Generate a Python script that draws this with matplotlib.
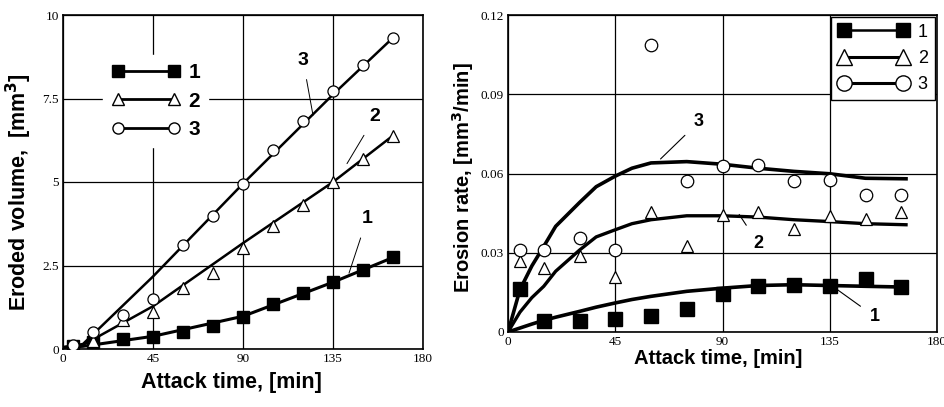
import matplotlib.pyplot as plt
from matplotlib.lines import Line2D

# --- left panel: eroded volume [mm3] vs attack time [min]
t_vol = [5, 15, 30, 45, 60, 75, 90, 105, 120, 135, 150, 165]
vol_1 = [0.1, 0.22, 0.3, 0.36, 0.5, 0.7, 0.96, 1.35, 1.68, 2.02, 2.37, 2.74]
vol_2 = [0.1, 0.25, 0.86, 1.1, 1.84, 2.29, 3.02, 3.69, 4.32, 5.01, 5.68, 6.39]
vol_3 = [0.12, 0.5, 1.03, 1.5, 3.12, 3.97, 4.95, 5.96, 6.82, 7.72, 8.5, 9.32]

fit_t_vol = [0, 10, 45, 90, 135, 165]
fit_vol_1 = [0.05, 0.08, 0.38, 0.98, 2.0, 2.74]
fit_vol_2 = [0.05, 0.12, 1.28, 3.17, 5.0, 6.39]
fit_vol_3 = [0.05, 0.15, 2.17, 4.95, 7.62, 9.32]

# --- right panel: erosion rate [mm3/min] vs attack time [min]
t_rate = [5, 15, 30, 45, 60, 75, 90, 105, 120, 135, 150, 165]
rate_1 = [0.0163, 0.004, 0.004, 0.005, 0.0059, 0.0087, 0.0145, 0.0176, 0.0179, 0.0175, 0.020, 0.017]
rate_2 = [0.0267, 0.0242, 0.0286, 0.021, 0.0453, 0.0324, 0.0444, 0.0454, 0.039, 0.0441, 0.0429, 0.0456]
rate_3 = [0.0311, 0.031, 0.0355, 0.0309, 0.1087, 0.057, 0.063, 0.0633, 0.057, 0.0576, 0.0517, 0.0517]

fit_t_rate = [0, 5, 10, 15, 20, 30, 37, 45, 52, 60, 75, 90, 105, 120, 135, 150, 167]
fit_rate_1 = [0, 0.0015, 0.003, 0.0044, 0.0056, 0.0078, 0.0094, 0.011, 0.0123, 0.0135, 0.0154, 0.0166,
              0.0176, 0.0179, 0.0176, 0.0173, 0.017]
fit_rate_2 = [0, 0.0075, 0.013, 0.0173, 0.023, 0.031, 0.036, 0.0387, 0.041, 0.0425, 0.044, 0.044,
              0.0435, 0.0425, 0.0418, 0.041, 0.0406]
fit_rate_3 = [0, 0.016, 0.025, 0.0324, 0.040, 0.049, 0.055, 0.059, 0.062, 0.064, 0.0645, 0.0635,
              0.062, 0.0608, 0.0599, 0.0582, 0.058]

labels = ['1', '2', '3']
xticks = [0, 45, 90, 135, 180]

fig = plt.figure(figsize=(9.44, 4.07), dpi=100)
ax1 = fig.add_axes([63/944, 58/407, 360/944, 334/407])
ax2 = fig.add_axes([508/944, 75/407, 429/944, 317/407])

serif = 'Liberation Serif'
sans = 'Liberation Sans'

def style_axis(ax, yticks, ylabels):
    ax.set_xlim(0, 180)
    ax.set_xticks(xticks)
    ax.set_xticklabels([str(v) for v in xticks], family=serif, fontsize=9.5)
    ax.set_yticks(yticks)
    ax.set_yticklabels(ylabels, family=serif, fontsize=9.5)
    ax.set_ylim(yticks[0], yticks[-1])
    ax.grid(True, color='black', lw=0.9)
    ax.tick_params(length=0, pad=3)
    for s in ax.spines.values():
        s.set_linewidth(1.2)
    ax.set_axisbelow(True)

# left panel
sq = dict(marker='s', color='black', ms=9, ls='none', mfc='black')
tri = dict(marker='^', color='black', ms=8, ls='none', mfc='white', mew=0.9)
cir = dict(marker='o', color='black', ms=8, ls='none', mfc='white', mew=0.9)

ax1.plot(fit_t_vol, fit_vol_1, color='black', lw=2.2, zorder=3)
ax1.plot(fit_t_vol, fit_vol_2, color='black', lw=1.8, zorder=3)
ax1.plot(fit_t_vol, fit_vol_3, color='black', lw=1.8, zorder=3)
ax1.plot(t_vol, vol_1, zorder=4, **sq)
ax1.plot(t_vol, vol_2, zorder=4, **tri)
ax1.plot(t_vol, vol_3, zorder=4, **cir)
style_axis(ax1, [0, 2.5, 5, 7.5, 10], ['0', '2.5', '5', '7.5', '10'])
ax1.set_xlabel('Attack time, [min]', family=sans, weight='bold', fontsize=15.5)
ax1.set_ylabel('Eroded volume,  [mm$^\\mathbf{3}$]', family=sans, weight='bold', fontsize=15.5)
ax1.xaxis.set_label_coords(0.467, -0.069)
ax1.yaxis.set_label_coords(-0.08, 0.47)

# curve labels with leader lines (left)
for lab, xy, xyt in [('3', (125, 7.0), (120, 8.65)),
                     ('2', (142, 5.55), (156, 6.95)),
                     ('1', (143, 2.27), (152, 3.9))]:
    ax1.annotate(lab, xy=xy, xytext=xyt, family=sans, weight='bold', fontsize=14,
                 ha='center', va='center',
                 arrowprops=dict(arrowstyle='-', color='black', lw=0.7, shrinkA=6, shrinkB=0))

h_sq = Line2D([], [], marker='s', color='black', ms=9, lw=2)
h_tri = Line2D([], [], marker='^', color='black', ms=8, mfc='white', lw=2)
h_cir = Line2D([], [], marker='o', color='black', ms=8, mfc='white', lw=2)
leg1 = ax1.legend([h_sq, h_tri, h_cir], labels, loc='upper left', bbox_to_anchor=(0.082, 0.912),
                  numpoints=2, handlelength=3.3, handletextpad=0.4, labelspacing=0.45,
                  frameon=True, fancybox=False, edgecolor='white', framealpha=1,
                  prop=dict(family=sans, weight='bold', size=15))

# right panel
ax2.plot(fit_t_rate, fit_rate_1, color='black', lw=2.6, zorder=3)
ax2.plot(fit_t_rate, fit_rate_2, color='black', lw=2.4, zorder=3)
ax2.plot(fit_t_rate, fit_rate_3, color='black', lw=2.6, zorder=3)
ax2.plot(t_rate, rate_1, zorder=4, **dict(sq, ms=10))
ax2.plot(t_rate, rate_2, zorder=4, **dict(tri, ms=9))
ax2.plot(t_rate, rate_3, zorder=4, **dict(cir, ms=9))
style_axis(ax2, [0, 0.03, 0.06, 0.09, 0.12], ['0', '0.03', '0.06', '0.09', '0.12'])
ax2.set_xlabel('Attack time, [min]', family=sans, weight='bold', fontsize=14.5)
ax2.set_ylabel('Erosion rate, [mm$^\\mathbf{3}$/min]', family=sans, weight='bold', fontsize=14.5)
ax2.xaxis.set_label_coords(0.49, -0.054)
ax2.yaxis.set_label_coords(-0.075, 0.486)

for lab, xy, xyt in [('3', (64, 0.0655), (80, 0.0795)),
                     ('2', (97, 0.0445), (105, 0.0335)),
                     ('1', (137, 0.0168), (154, 0.0058))]:
    ax2.annotate(lab, xy=xy, xytext=xyt, family=sans, weight='bold', fontsize=13,
                 ha='center', va='center',
                 arrowprops=dict(arrowstyle='-', color='black', lw=0.8, shrinkA=6, shrinkB=0))

h_sq2 = Line2D([], [], marker='s', color='black', ms=10, lw=1.8)
h_tri2 = Line2D([], [], marker='^', color='black', ms=11, mfc='white', lw=2.2)
h_cir2 = Line2D([], [], marker='o', color='black', ms=11, mfc='white', lw=2.2)
leg2 = ax2.legend([h_sq2, h_tri2, h_cir2], labels, loc='upper right', bbox_to_anchor=(0.995, 0.995),
                  numpoints=2, handlelength=3.9, handletextpad=0.5, labelspacing=0.5,
                  borderaxespad=0, frameon=True, fancybox=False, edgecolor='black', framealpha=1,
                  prop=dict(family=sans, size=13))
leg2.get_frame().set_linewidth(1.0)

fig.savefig('out.png', dpi=100)
